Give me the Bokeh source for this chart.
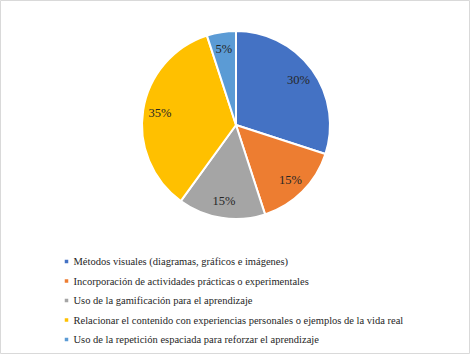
import numpy as np
from bokeh.plotting import figure
from bokeh.models import Range1d, ColumnDataSource
from bokeh.core.properties import value
from bokeh.embed import file_html
from bokeh.resources import INLINE

categories = [
    "Métodos visuales (diagramas, gráficos e imágenes)",
    "Incorporación de actividades prácticas o experimentales",
    "Uso de la gamificación para el aprendizaje",
    "Relacionar el contenido con experiencias personales o ejemplos de la vida real",
    "Uso de la repetición espaciada para reforzar el aprendizaje",
]
percentages = [30, 15, 15, 35, 5]
colors = ["#4472C4", "#ED7D31", "#A5A5A5", "#FFC000", "#5B9BD5"]

W, H = 470, 354
cx, cy, R = 235.5, H - 124.5, 94.0
FONT = value("Liberation Serif")

vals = np.array(percentages, dtype=float)
frac = vals / vals.sum()
cum = np.concatenate([[0], np.cumsum(frac)])
start = np.pi / 2 - 2 * np.pi * cum[:-1]
end = np.pi / 2 - 2 * np.pi * cum[1:]
mid = (start + end) / 2
lr = 0.82 * R

src = ColumnDataSource(dict(
    start=start, end=end, color=colors,
    lx=cx + lr * np.cos(mid), ly=cy + lr * np.sin(mid),
    label=[f"{v}%" for v in percentages],
))

p = figure(width=W, height=H, output_backend="svg", toolbar_location=None,
           x_range=Range1d(0, W), y_range=Range1d(0, H), min_border=0)
p.axis.visible = False
p.grid.visible = False
p.outline_line_color = "#D9D9D9"
p.outline_line_width = 1
p.background_fill_color = "white"

p.wedge(x=cx, y=cy, radius=R, start_angle="start", end_angle="end",
        direction="clock", fill_color="color", line_color="white",
        line_width=2, source=src)
p.text(x="lx", y="ly", text="label", source=src, text_align="center",
       text_baseline="middle", text_font=FONT,
       text_font_size="12.5px", text_color="#262626")

ys = [H - 261, H - 280.5, H - 300, H - 319.5, H - 339]
leg = ColumnDataSource(dict(mx=[66] * 5, tx=[73] * 5, y=ys, text=categories, color=colors))
p.rect(x="mx", y="y", width=3.5, height=3.5, fill_color="color", line_color=None, source=leg)
p.text(x="tx", y="y", text="text", source=leg, text_align="left", text_baseline="middle",
       text_font=FONT, text_font_size="10.5px", text_color="#262626")

open("out.html", "w").write(file_html(p, INLINE))
